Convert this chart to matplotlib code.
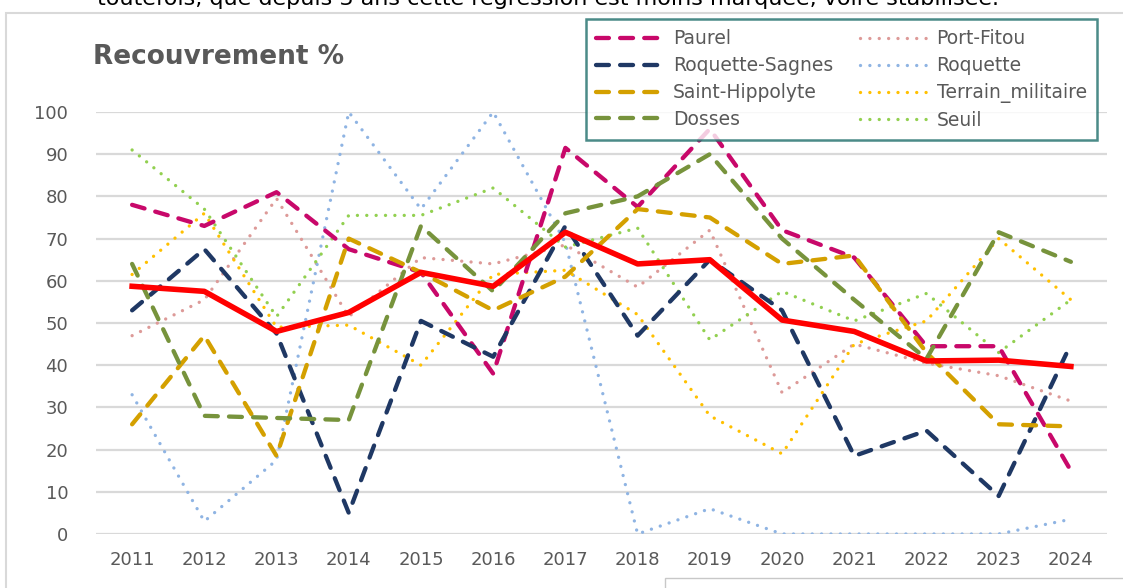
import numpy as np
import matplotlib.pyplot as plt
from matplotlib.patches import Rectangle

## DATA ##
years = ['2011', '2012', '2013', '2014', '2015', '2016', '2017',
         '2018', '2019', '2020', '2021', '2022', '2023', '2024']

paurel = [78, 73, 81, 67.5, 62, 38, 91.5, 77.5, 96, 72, 65.5, 44.5, 44.5, 15]
roquette_sagnes = [53, 67.5, 47.5, 5, 50.5, 42, 73, 47, 65, 53, 18.5, 24.5, 9, 45]
saint_hippolyte = [26, 47, 18.5, 70, 62, 53, 61, 77, 75, 64, 66, 43, 26, 25.5]
dosses = [64, 28, 27.5, 27, 73, 57.5, 76, 80, 90, 70, 55.5, 41.5, 71.5, 64.5]
port_fitou = [47, 55.5, 79.5, 51.5, 65.5, 64, 68.5, 58.5, 72, 33.5, 45, 40.5, 37.5, 31.5]
roquette = [33, 3, 17.5, 100, 77, 100, 69, 0, 6, 0, 0, 0, 0, 3.5]
terrain_militaire = [61.5, 76, 49, 49.5, 40, 61.5, 62.5, 52, 28, 19, 45, 50.5, 70, 55.5]
seuil = [91, 77, 51.5, 75.5, 75.5, 82, 68, 72.5, 46, 57.5, 50.5, 57, 43, 55.5]
moyenne = [58.7, 57.5, 48, 52.5, 62, 58.7, 71.5, 64, 65, 50.7, 48, 41, 41.2, 39.7]

series = [
    ('Paurel', paurel, '#c8086a', 'dash'),
    ('Port-Fitou', port_fitou, '#dd9a98', 'dot'),
    ('Roquette-Sagnes', roquette_sagnes, '#1f3864', 'dash'),
    ('Roquette', roquette, '#8fb4e3', 'dot'),
    ('Saint-Hippolyte', saint_hippolyte, '#d4a000', 'dash'),
    ('Terrain_militaire', terrain_militaire, '#ffc000', 'dot'),
    ('Dosses', dosses, '#77933c', 'dash'),
    ('Seuil', seuil, '#92d050', 'dot'),
]

grey = '#595959'

## FIGURE ##
fig = plt.figure(figsize=(11.23, 5.88), dpi=100)
ax = fig.add_axes([96/1123, 1-534/588, (1107-96)/1123, (534-112)/588])

x = np.arange(len(years))

# draw dotted first so dashed sit on top
for name, vals, col, kind in series:
    if kind == 'dot':
        ax.plot(x, vals, color=col, lw=2.4, linestyle=(0, (0.01, 2.8)),
                dash_capstyle='round', label=name, zorder=2)
    else:
        ax.plot(x, vals, color=col, lw=3.1, linestyle=(0, (3.0, 2.6)),
                dash_capstyle='round', label=name, zorder=3)

# moyenne (no legend entry)
ax.plot(x, moyenne, color='#ff0000', lw=4.0, solid_joinstyle='round', zorder=4)

ax.set_xlim(-0.5, len(years) - 0.5)
ax.set_ylim(0, 100)
ax.set_yticks(np.arange(0, 101, 10))
ax.set_xticks(x)
ax.set_xticklabels(years)
ax.grid(axis='y', color='#d9d9d9', lw=1.6)
ax.set_axisbelow(True)
for s in ax.spines.values():
    s.set_visible(False)
ax.tick_params(length=0, labelsize=13, labelcolor=grey, pad=12)
ax.tick_params(axis='y', pad=20)

# legend, ordered to match the two-column layout
handles, labels = ax.get_legend_handles_labels()
order = [0, 2, 4, 6, 1, 3, 5, 7]
leg = fig.legend([handles[i] for i in order], [labels[i] for i in order],
                 ncol=2, loc='upper left', bbox_to_anchor=(586/1123, 1-19/588),
                 fontsize=13.5, labelcolor=grey, frameon=True, fancybox=False,
                 handlelength=3.7, handletextpad=0.4, columnspacing=1.4,
                 labelspacing=0.42, borderpad=0.55, borderaxespad=0)
leg.get_frame().set_edgecolor('#1e6e6a')
leg.get_frame().set_linewidth(1.8)
leg.set_zorder(10)

# title
fig.text(93/1123, 1-57/588, 'Recouvrement %', fontsize=19, fontweight='bold',
         color=grey, va='center', ha='left')

# chart border and cut-off surrounding text
fig.add_artist(Rectangle((6/1123, -0.05), 1.2, 1-13/588+0.05, transform=fig.transFigure,
                         fill=False, edgecolor='#d9d9d9', lw=1.5, zorder=0))
fig.add_artist(Rectangle((665/1123, -0.05), 1.0, 0.05+10/588, transform=fig.transFigure,
                         fill=False, edgecolor='#c8c8c8', lw=1.0, zorder=0))
fig.text(97/1123, 1-5/588,
         'toutefois, que depuis 3 ans cette régression est moins marquée, voire stabilisée.',
         fontsize=16, color='black', va='baseline', ha='left')

fig.savefig('out.png', dpi=100)
